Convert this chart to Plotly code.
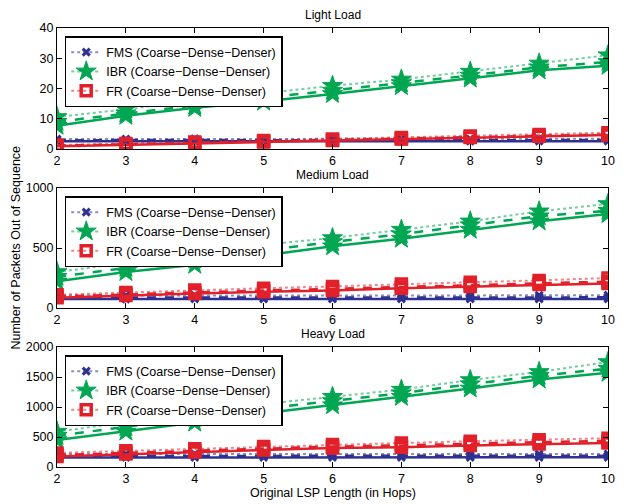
import plotly.graph_objects as go

hops = [2, 3, 4, 5, 6, 7, 8, 9, 10]

# Light load
light_fms_coarse = [3.3, 3.3, 3.4, 3.3, 3.3, 3.4, 3.3, 3.4, 3.4]
light_fms_dense = [2.9, 3.0, 3.0, 2.9, 3.0, 3.0, 2.9, 3.0, 3.0]
light_fms_denser = [2.6, 2.6, 2.7, 2.6, 2.6, 2.6, 2.6, 2.6, 2.6]
light_ibr_coarse = [10.6, 13.1, 16.0, 18.5, 20.9, 23.0, 25.6, 28.3, 31.0]
light_ibr_dense = [9.0, 11.8, 14.4, 16.9, 19.3, 21.8, 24.3, 27.0, 28.8]
light_ibr_denser = [7.7, 11.0, 13.6, 15.7, 18.2, 20.8, 23.3, 26.0, 27.5]
light_fr_coarse = [1.3, 1.8, 2.3, 2.8, 3.3, 3.8, 4.3, 4.8, 5.4]
light_fr_dense = [1.1, 1.5, 2.0, 2.5, 3.0, 3.4, 3.9, 4.4, 4.8]
light_fr_denser = [0.9, 1.3, 1.8, 2.3, 2.8, 3.3, 3.8, 4.2, 4.6]

# Medium load
med_fms_coarse = [105, 104, 106, 105, 106, 106, 105, 106, 107]
med_fms_dense = [88, 87, 89, 88, 88, 89, 88, 88, 89]
med_fms_denser = [75, 74, 76, 75, 75, 76, 75, 75, 76]
med_ibr_coarse = [300, 375, 450, 528, 583, 653, 722, 806, 867]
med_ibr_dense = [260, 335, 405, 480, 550, 615, 690, 765, 810]
med_ibr_denser = [222, 300, 361, 439, 514, 578, 653, 722, 783]
med_fr_coarse = [110, 130, 150, 165, 180, 200, 215, 230, 250]
med_fr_dense = [95, 115, 130, 145, 158, 175, 190, 205, 220]
med_fr_denser = [85, 105, 120, 135, 145, 165, 180, 195, 205]

# Heavy load
heavy_fms_coarse = [215, 214, 216, 215, 216, 216, 215, 216, 217]
heavy_fms_dense = [185, 184, 186, 185, 186, 186, 185, 186, 186]
heavy_fms_denser = [160, 160, 161, 160, 161, 161, 160, 161, 161]
heavy_ibr_coarse = [590, 740, 895, 1050, 1170, 1290, 1450, 1585, 1750]
heavy_ibr_dense = [520, 665, 820, 975, 1100, 1230, 1380, 1520, 1640]
heavy_ibr_denser = [450, 590, 740, 895, 1030, 1170, 1310, 1460, 1570]
heavy_fr_coarse = [235, 270, 305, 340, 375, 400, 430, 455, 480]
heavy_fr_dense = [200, 235, 270, 305, 340, 360, 390, 415, 435]
heavy_fr_denser = [175, 215, 250, 285, 315, 330, 360, 385, 400]

panel_titles = ["Light Load", "Medium Load", "Heavy Load"]
legend_names = ["FMS (Coarse\u2212Dense\u2212Denser)",
                "IBR (Coarse\u2212Dense\u2212Denser)",
                "FR (Coarse\u2212Dense\u2212Denser)"]
y_ranges = [[0, 40], [0, 1000], [0, 2000]]
y_dticks = [10, 500, 500]

panels = [
    [[light_fms_coarse, light_fms_dense, light_fms_denser],
     [light_ibr_coarse, light_ibr_dense, light_ibr_denser],
     [light_fr_coarse, light_fr_dense, light_fr_denser]],
    [[med_fms_coarse, med_fms_dense, med_fms_denser],
     [med_ibr_coarse, med_ibr_dense, med_ibr_denser],
     [med_fr_coarse, med_fr_dense, med_fr_denser]],
    [[heavy_fms_coarse, heavy_fms_dense, heavy_fms_denser],
     [heavy_ibr_coarse, heavy_ibr_dense, heavy_ibr_denser],
     [heavy_fr_coarse, heavy_fr_dense, heavy_fr_denser]],
]

colors = ["#2e3192", "#00a651", "#e2202a"]
light_colors = ["rgba(46,49,146,0.55)", "rgba(0,166,81,0.55)", "rgba(226,32,42,0.55)"]

# layout geometry (pixels)
W, H = 624, 504
ml, mr, mt, mb = 57, 9, 28, 37
ph = H - mt - mb
panel_px = [(28, 149), (188, 308), (347, 467)]

def py(p):
    return (H - mb - p) / ph

fig = go.Figure()
legend_keys = ["legend", "legend2", "legend3"]

for pi, panel in enumerate(panels):
    xa = "x" if pi == 0 else f"x{pi+1}"
    ya = "y" if pi == 0 else f"y{pi+1}"
    for si, series in enumerate(panel):
        for vi, vals in enumerate(series):
            dash = ["dot", "dash", "solid"][vi]
            col = light_colors[si] if vi == 0 else colors[si]
            lw = 2 if vi == 0 else 2.5
            if si == 1:
                marker = dict(symbol="star", size=15, color=colors[si],
                              line=dict(color=colors[si], width=1))
            elif si == 0:
                marker = dict(symbol="x-thin-open", size=7,
                              line=dict(color=colors[si], width=3), color=colors[si])
            else:
                marker = dict(symbol="square-open", size=10, color=colors[si],
                              line=dict(color=colors[si], width=3.5))
            fig.add_trace(go.Scatter(
                x=hops, y=vals, xaxis=xa, yaxis=ya,
                mode="lines+markers",
                line=dict(color=col, width=lw, dash=dash),
                marker=marker,
                name=legend_names[si],
                showlegend=(vi == 0),
                legend=legend_keys[pi],
            ))

axis_common = dict(showline=True, linecolor="black", linewidth=1, mirror="ticks",
                   ticks="inside", ticklen=5, tickcolor="black", showgrid=False,
                   zeroline=False, tickfont=dict(size=12.5, color="black"))

layout = dict(
    width=W, height=H,
    margin=dict(l=ml, r=mr, t=mt, b=mb),
    paper_bgcolor="white", plot_bgcolor="white",
    font=dict(family="Liberation Sans, Arial, sans-serif", size=12, color="black"),
    showlegend=True,
)

annotations = []
for pi in range(3):
    top, bot = panel_px[pi]
    dom = [py(bot), py(top)]
    xk = "xaxis" if pi == 0 else f"xaxis{pi+1}"
    yk = "yaxis" if pi == 0 else f"yaxis{pi+1}"
    ya_ref = "y" if pi == 0 else f"y{pi+1}"
    xa_ref = "x" if pi == 0 else f"x{pi+1}"
    layout[xk] = dict(axis_common, range=[2, 10], tickmode="array",
                      tickvals=hops, anchor=ya_ref, domain=[0, 1])
    layout[yk] = dict(axis_common, range=y_ranges[pi], dtick=y_dticks[pi],
                      tick0=0, anchor=xa_ref, domain=dom)
    lk = legend_keys[pi]
    layout[lk] = dict(x=0.014, y=py(top + 8), xanchor="left", yanchor="top",
                      xref="paper", yref="paper",
                      bgcolor="white", bordercolor="black", borderwidth=1.5,
                      font=dict(size=12.5, color="black"), tracegroupgap=0,
                      itemwidth=30)
    annotations.append(dict(text=panel_titles[pi], x=0.5, xref="paper",
                            y=py(top - 13), yref="paper", showarrow=False,
                            font=dict(size=12), xanchor="center", yanchor="middle"))

annotations.append(dict(text="Original LSP Length (in Hops)", x=0.5, xref="paper",
                        y=py(493), yref="paper", showarrow=False,
                        font=dict(size=12.5), xanchor="center", yanchor="middle"))
annotations.append(dict(text="Number of Packets Out of Sequence", x=-42 / (W - ml - mr),
                        xref="paper", y=py(248), yref="paper", showarrow=False,
                        textangle=-90, font=dict(size=12.5),
                        xanchor="center", yanchor="middle"))
layout["annotations"] = annotations

fig.update_layout(**layout)
fig.write_html("out.html")
